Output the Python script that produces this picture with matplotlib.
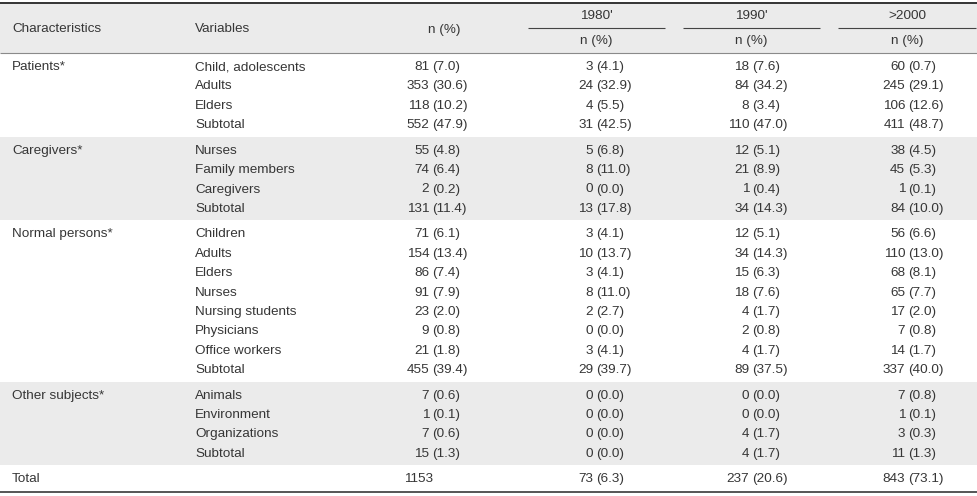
import matplotlib
matplotlib.use("Agg")
import matplotlib.pyplot as plt
from matplotlib.patches import Rectangle

# ---------------- data ----------------
groups = ["Patients*", "Caregivers*", "Normal persons*", "Other subjects*"]
variables = [
    ["Child, adolescents", "Adults", "Elders", "Subtotal"],
    ["Nurses", "Family members", "Caregivers", "Subtotal"],
    ["Children", "Adults", "Elders", "Nurses", "Nursing students", "Physicians", "Office workers", "Subtotal"],
    ["Animals", "Environment", "Organizations", "Subtotal"],
]
all_n = [[81, 353, 118, 552], [55, 74, 2, 131], [71, 154, 86, 91, 23, 9, 21, 455], [7, 1, 7, 15]]
all_p = [[7.0, 30.6, 10.2, 47.9], [4.8, 6.4, 0.2, 11.4], [6.1, 13.4, 7.4, 7.9, 2.0, 0.8, 1.8, 39.4], [0.6, 0.1, 0.6, 1.3]]
n1980 = [[3, 24, 4, 31], [5, 8, 0, 13], [3, 10, 3, 8, 2, 0, 3, 29], [0, 0, 0, 0]]
p1980 = [[4.1, 32.9, 5.5, 42.5], [6.8, 11.0, 0.0, 17.8], [4.1, 13.7, 4.1, 11.0, 2.7, 0.0, 4.1, 39.7], [0.0, 0.0, 0.0, 0.0]]
n1990 = [[18, 84, 8, 110], [12, 21, 1, 34], [12, 34, 15, 18, 4, 2, 4, 89], [0, 0, 4, 4]]
p1990 = [[7.6, 34.2, 3.4, 47.0], [5.1, 8.9, 0.4, 14.3], [5.1, 14.3, 6.3, 7.6, 1.7, 0.8, 1.7, 37.5], [0.0, 0.0, 1.7, 1.7]]
n2000 = [[60, 245, 106, 411], [38, 45, 1, 84], [56, 110, 68, 65, 17, 7, 14, 337], [7, 1, 3, 11]]
p2000 = [[0.7, 29.1, 12.6, 48.7], [4.5, 5.3, 0.1, 10.0], [6.6, 13.0, 8.1, 7.7, 2.0, 0.8, 1.7, 40.0], [0.8, 0.1, 0.3, 1.3]]
total_label = "Total"
total_n = [1153, 73, 237, 843]
total_p = [None, 6.3, 20.6, 73.1]
header_cols = ["Characteristics", "Variables", "n (%)"]
periods = ["1980'", "1990'", ">2000"]
sub_header = "n (%)"

# ---------------- style ----------------
FONT = "Liberation Sans"
FS = 9.7
TXT = "#363636"
GRAY = "#ebebeb"
W, H = 977, 496

fig = plt.figure(figsize=(W / 100, H / 100), dpi=100)
ax = fig.add_axes([0, 0, 1, 1])
ax.set_xlim(0, W)
ax.set_ylim(H, 0)
ax.axis("off")

def txt(x, y, s, ha="left"):
    ax.text(x, y, s, ha=ha, va="center", fontsize=FS, family=FONT, color=TXT)

x_char, x_var = 12, 195
paren_x = [432, 596, 752, 908]
period_span = [(528, 665), (683, 820), (838, 976)]
gap = 2.8

# header
top, head_bot = 3, 53
ax.add_patch(Rectangle((0, top), W, head_bot - top, color=GRAY, lw=0, zorder=0))
ax.plot([0, W], [top, top], color="#333333", lw=1.4, solid_capstyle="butt")
ax.plot([0, W], [head_bot, head_bot], color="#8a8a8a", lw=0.8, solid_capstyle="butt")
txt(x_char, 29.5, header_cols[0])
txt(x_var, 29.5, header_cols[1])
txt(444, 29.5, header_cols[2], ha="center")
for (a, b), lab in zip(period_span, periods):
    c = (a + b) / 2
    txt(c, 16, lab, ha="center")
    ax.plot([a, b], [28, 28], color="#444444", lw=0.8, solid_capstyle="butt")
    txt(c, 41, sub_header, ha="center")

def cell(col, n, p, y):
    if p is None:
        txt(paren_x[col] + 1, y, f"{n}", ha="right")
        return
    txt(paren_x[col] - gap, y, f"{n}", ha="right")
    txt(paren_x[col], y, f"({p:.1f})", ha="left")

step = 19.4
pad_top, pad_bot = 14.0, 11.5
y0 = head_bot
for gi, g in enumerate(groups):
    nrows = len(variables[gi])
    y_end = y0 + pad_top + (nrows - 1) * step + pad_bot
    if gi % 2 == 1:
        ax.add_patch(Rectangle((0, y0), W, y_end - y0, color=GRAY, lw=0, zorder=0))
    for r in range(nrows):
        y = y0 + pad_top + r * step
        if r == 0:
            txt(x_char, y, g)
        txt(x_var, y, variables[gi][r])
        cell(0, all_n[gi][r], all_p[gi][r], y)
        cell(1, n1980[gi][r], p1980[gi][r], y)
        cell(2, n1990[gi][r], p1990[gi][r], y)
        cell(3, n2000[gi][r], p2000[gi][r], y)
    y0 = y_end

# total row
yt = y0 + pad_top
txt(x_char, yt, total_label)
for c in range(4):
    cell(c, total_n[c], total_p[c], yt)
ax.plot([0, W], [492, 492], color="#555555", lw=1.4, solid_capstyle="butt")

fig.savefig("out.png", dpi=100)
